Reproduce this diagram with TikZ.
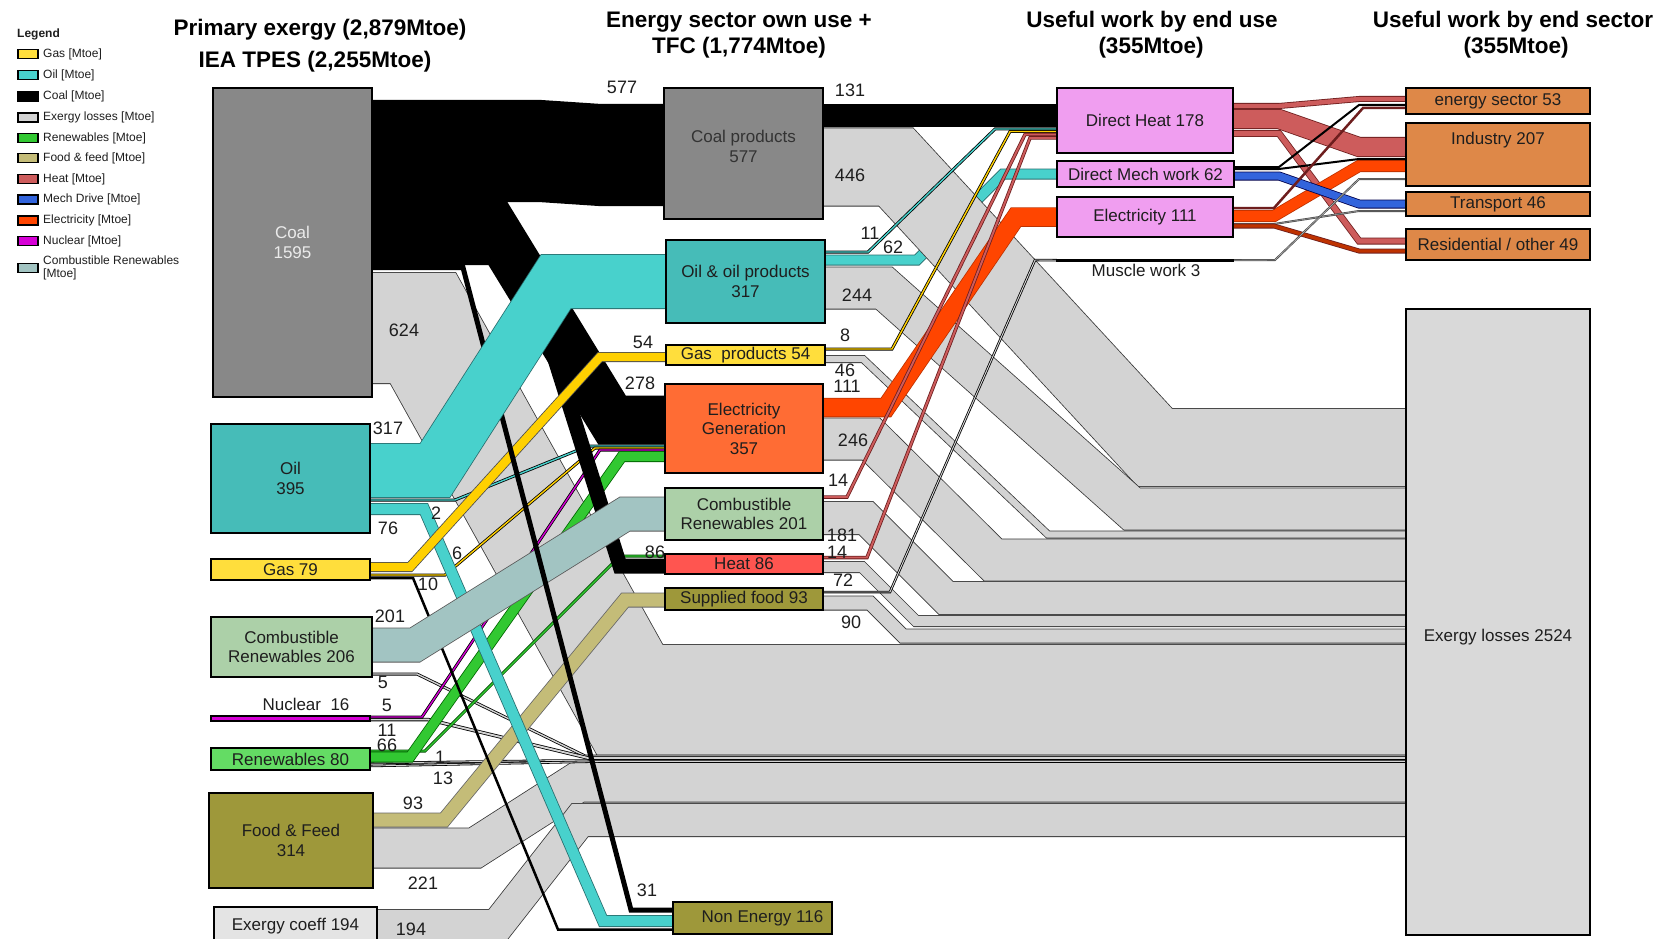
\documentclass[tikz,border=0pt]{standalone}
\usepackage{fontspec}
\setmainfont{Liberation Sans}
\usetikzlibrary{calc}
\pgfdeclarelayer{bg}
\pgfdeclarelayer{bands}
\pgfsetlayers{bg,bands,main}

% box fills
\definecolor{coalbox}{RGB}{136,136,136}
\definecolor{oilbox}{RGB}{70,188,184}
\definecolor{gasbox}{RGB}{255,222,60}
\definecolor{crenbox}{RGB}{172,208,168}
\definecolor{renbox}{RGB}{100,220,100}
\definecolor{foodbox}{RGB}{158,152,58}
\definecolor{coeffbox}{RGB}{228,228,228}
\definecolor{elecbox}{RGB}{255,108,52}
\definecolor{heatbox}{RGB}{255,85,80}
\definecolor{usebox}{RGB}{240,158,240}
\definecolor{secbox}{RGB}{222,136,72}
\definecolor{lossbox}{RGB}{217,217,217}
% flow colours
\definecolor{oilflow}{RGB}{72,209,204}
\definecolor{oilline}{RGB}{40,110,110}
\definecolor{gasflow}{RGB}{255,208,0}
\definecolor{crenflow}{RGB}{162,196,194}
\definecolor{nucl}{RGB}{214,0,214}
\definecolor{renflow}{RGB}{50,200,50}
\definecolor{foodflow}{RGB}{196,188,120}
\definecolor{elecflow}{RGB}{255,69,0}
\definecolor{elecline}{RGB}{190,50,0}
\definecolor{heatflow}{RGB}{205,92,92}
\definecolor{heatline}{RGB}{110,30,30}
\definecolor{mechflow}{RGB}{50,100,220}
\definecolor{lossflow}{RGB}{211,211,211}
\definecolor{lossline}{RGB}{55,55,55}
\definecolor{txt}{RGB}{30,30,30}

\newcommand\boxfont{\fontsize{17}{19.5}\selectfont}
\newcommand\numfont{\fontsize{18}{20}\selectfont}
\newcommand\headfont{\fontsize{22.5}{26}\selectfont\bfseries}
\newcommand\legfont{\fontsize{12}{13.5}\selectfont}

\tikzset{
  bandpath/.style={line join=miter, miter limit=25, line cap=butt},
  box/.style={draw=black, line width=2.2pt, inner sep=0pt, outer sep=0pt,
              align=center, text=txt, font=\boxfont},
  lbl/.style={font=\boxfont, text=txt, align=center, inner sep=0pt},
  num/.style={font=\numfont, text=txt, inner sep=0pt},
  head/.style={font=\headfont, text=black, inner sep=0pt, anchor=base},
  legsw/.style={draw=black, line width=1.5pt, minimum width=20pt,
                minimum height=9pt, inner sep=0pt, anchor=west},
  legtx/.style={font=\legfont, text=txt, anchor=west, inner sep=0pt, align=left},
}

% a flow: outline stroke, then the coloured body on top of it
\newcommand\flowband[4]{%
  \draw[bandpath, draw=#2, line width=#3pt] #4;
  \draw[bandpath, draw=#1, line width=#3pt-1.6pt] #4;}

% box from its corners: name, options, x1, y1, x2, y2, text
\newcommand\mkbox[7]{%
  \node[box,#2,minimum width={(#5)-(#3)},minimum height={(#6)-(#4)}]
    (#1) at ({((#3)+(#5))/2},{((#4)+(#6))/2}) {#7};}

\newcommand\legrow[4]{%
  \node[legsw, fill=#2] (#1) at (17,#3) {};
  \node[legtx] (#1t) at (43,#3) {#4};}

\begin{document}
\begin{tikzpicture}[x=1pt,y=-1pt]
\useasboundingbox (0,0) rectangle (1662,939);
\begin{pgfonlayer}{bg}
  \fill[white] (0,0) rectangle (1662,939);
\end{pgfonlayer}

% ---------- headings ----------
\node[head] (h1a) at (320,36) {Primary exergy (2,879Mtoe)};
\node[head] (h1b) at (315,68) {IEA TPES (2,255Mtoe)};
\node[head] (h2a) at (739,28) {Energy sector own use +};
\node[head] (h2b) at (739,54) {TFC (1,774Mtoe)};
\node[head] (h3a) at (1152,28) {Useful work by end use};
\node[head] (h3b) at (1151,54) {(355Mtoe)};
\node[head] (h4a) at (1513,28) {Useful work by end sector};
\node[head] (h4b) at (1516,54) {(355Mtoe)};

% ---------- legend ----------
\node[legtx, font=\legfont\bfseries] (legend) at (17,34) {Legend};
\legrow{lgas}{gasbox}{54}{Gas [Mtoe]}
\legrow{loil}{oilflow}{75}{Oil [Mtoe]}
\legrow{lcoal}{black}{96.5}{Coal [Mtoe]}
\legrow{lloss}{lossflow}{117.5}{Exergy losses [Mtoe]}
\legrow{lren}{renflow}{138}{Renewables [Mtoe]}
\legrow{lfood}{foodflow}{158}{Food \& feed [Mtoe]}
\legrow{lheat}{heatflow}{179}{Heat [Mtoe]}
\legrow{lmech}{mechflow}{199.5}{Mech Drive [Mtoe]}
\legrow{lelec}{elecflow}{220.5}{Electricity [Mtoe]}
\legrow{lnuc}{nucl}{241}{Nuclear [Mtoe]}
\legrow{lcren}{crenflow}{268}{Combustible Renewables\\{[Mtoe]}}

% ---------- primary column ----------
\mkbox{coal}{fill=coalbox,text=white!92!black}{213}{88}{372}{397}{Coal\\1595}
\mkbox{oil}{fill=oilbox}{211}{424}{370}{533}{Oil\\395}
\mkbox{gas}{fill=gasbox}{211}{559}{370}{580}{Gas 79}
\mkbox{combren}{fill=crenbox}{211}{617}{372}{677}{Combustible\\Renewables 206}
\mkbox{nuclear}{fill=nucl,line width=1.3pt}{211}{716}{370}{721}{}
\mkbox{renew}{fill=renbox}{211}{748}{370}{770}{Renewables 80}
\mkbox{food}{fill=foodbox}{209}{793}{373}{888}{Food \& Feed\\314}
\mkbox{coeff}{fill=coeffbox}{214}{907}{377}{945}{Exergy coeff 194}
\node[lbl] (nuctxt) at (306,704) {Nuclear~ 16};

% ---------- energy sector / TFC column ----------
\mkbox{cprod}{fill=coalbox,label={[lbl,text=black!80,yshift=7pt]center:{Coal products\\577}}}{664}{88}{823}{219}{}
\mkbox{oprod}{fill=oilbox}{666}{240}{825}{323}{Oil \& oil products\\317}
\mkbox{gprod}{fill=gasbox}{666}{345}{825}{365}{Gas~ products 54}
\mkbox{elec}{fill=elecbox}{665}{384}{823}{473}{Electricity\\Generation\\357}
\mkbox{cren2}{fill=crenbox}{665}{488}{823}{540}{Combustible\\Renewables 201}
\mkbox{heat}{fill=heatbox}{665}{554}{823}{574}{Heat 86}
\mkbox{sfood}{fill=foodbox}{665}{588}{823}{610}{Supplied food 93}
\mkbox{nonen}{fill=foodbox,label={[lbl,xshift=10pt]center:Non Energy 116}}{673}{902}{832}{934}{}

% ---------- useful work by end use ----------
\mkbox{dheat}{fill=usebox}{1057}{88}{1233}{153}{Direct Heat 178}
\mkbox{dmech}{fill=usebox}{1057}{161}{1234}{187}{Direct Mech work 62}
\mkbox{elecu}{fill=usebox}{1057}{197}{1233}{237}{Electricity 111}
\mkbox{muscle}{fill=black,line width=1.2pt}{1057}{259.5}{1233}{261}{}
\node[lbl] (muscletxt) at (1146,270) {Muscle work 3};

% ---------- useful work by end sector ----------
\mkbox{esec}{fill=secbox}{1406}{88}{1590}{114}{energy sector 53}
\mkbox{ind}{fill=secbox,label={[lbl,yshift=14pt]center:Industry 207}}{1406}{123}{1590}{186}{}
\mkbox{trans}{fill=secbox}{1406}{192}{1590}{216}{Transport 46}
\mkbox{resid}{fill=secbox}{1406}{229}{1590}{260}{Residential / other 49}
\mkbox{exloss}{fill=lossbox,line width=2pt,label={[lbl,yshift=-15pt]center:Exergy losses 2524}}{1406}{309}{1590}{935}{}

% ---------- flows ----------
\begin{pgfonlayer}{bands}
% oil products to direct mechanical work (runs beneath the loss bands)
\flowband{oilflow}{oilline}{11}{(oprod.east |- 0,260) -- (917,260) -- (1003,174) -- (dmech.west |- 0,174)}

% exergy losses
\flowband{lossflow}{lossline}{112}{(coal.east |- 0,328) -- (423,328) -- (630,700) -- (exloss.west |- 0,700)}
\flowband{lossflow}{lossline}{41}{(food.east |- 0,848) -- (475,848) -- (578,782) -- (exloss.west |- 0,782)}
\flowband{lossflow}{lossline}{34}{(coeff.east |- 0,926) -- (497,926) -- (580,820) -- (exloss.west |- 0,820)}
\flowband{lossflow}{lossline}{79}{(cprod.east |- 0,167) -- (896,167) -- (1155,447.5) -- (exloss.west |- 0,447.5)}
\flowband{lossflow}{lossline}{43}{(oprod.east |- 0,288) -- (884,288) -- (1132,509) -- (exloss.west |- 0,509)}
\flowband{lossflow}{lossline}{8}{(gprod.east |- 0,359) -- (863,359) -- (1048,534.5) -- (exloss.west |- 0,534.5)}
\flowband{lossflow}{lossline}{43}{(elec.east |- 0,439) -- (871,439) -- (993,560) -- (exloss.west |- 0,560)}
\flowband{lossflow}{lossline}{34}{(cren2.east |- 0,518) -- (866,518) -- (946,598) -- (exloss.west |- 0,598)}
\flowband{lossflow}{lossline}{12}{(heat.east |- 0,567) -- (862,567) -- (916,621) -- (exloss.west |- 0,621)}
\flowband{lossflow}{lossline}{15}{(sfood.east |- 0,603) -- (870,603) -- (903,636) -- (exloss.west |- 0,636)}
\flowband{lossflow}{black}{3}{(combren.east |- 0,674) -- (417,674) -- (585,756) -- (exloss.west |- 0,756)}
\flowband{lossflow}{black}{3.5}{(nuclear.east |- 0,719.5) -- (428,719.5) -- (588,758) -- (exloss.west |- 0,758)}
\flowband{lossflow}{black}{2.5}{(renew.east |- 0,763) -- (560,760.5) -- (exloss.west |- 0,760.5)}
\flowband{lossflow}{black}{2.5}{(renew.east |- 0,766) -- (600,761.5) -- (exloss.west |- 0,761.5)}

% small inputs to power generation and heat
\flowband{oilflow}{black}{3}{(oil.east |- 0,500) -- (455,500) -- (588,446) -- (elec.west |- 0,446)}
\flowband{gasflow}{black}{3}{(gas.east |- 0,575) -- (445,575) -- (595,448) -- (elec.west |- 0,448)}
\flowband{nucl}{black}{3}{(nuclear.east |- 0,717) -- (422,717) -- (600,450) -- (elec.west |- 0,450)}
\flowband{renflow}{black!70!green}{3}{(renew.east |- 0,751) -- (425,751) -- (620,556) -- (heat.west |- 0,556)}

% primary carriers
\flowband{renflow}{black!60!green}{11}{(renew.east |- 0,757) -- (410,757) -- (622,456.5) -- (elec.west |- 0,456.5)}
\flowband{foodflow}{black!60}{15}{(food.east |- 0,820) -- (444,820) -- (625,600) -- (sfood.west |- 0,600)}
\flowband{oilflow}{oilline}{12}{(oil.east |- 0,509) -- (424,509) -- (603,921) -- (nonen.west |- 0,921)}
\flowband{black}{black}{2.5}{(gas.east |- 0,578) -- (413,578) -- (558,929.5) -- (nonen.west |- 0,929.5)}
\flowband{black}{black}{49}{(coal.east |- 0,225.5) -- (493,225.5) -- (612,420) -- (elec.west |- 0,420)}
\flowband{black}{black}{15}{(coal.east |- 0,257.5) -- (523,257.5) -- (620,566) -- (heat.west |- 0,566)}
\flowband{crenflow}{black!65}{35}{(combren.east |- 0,645) -- (415,645) -- (625,514) -- (cren2.west |- 0,514)}
\flowband{gasflow}{black!70}{10}{(gas.east |- 0,567) -- (410,567) -- (600,357) -- (gprod.west |- 0,357)}
\flowband{black}{black}{5}{(coal.east |- 0,267.5) -- (463,267.5) -- (631,910) -- (nonen.west |- 0,910)}
\flowband{oilflow}{oilline}{55}{(oil.east |- 0,470.5) -- (435,470.5) -- (556,281.5) -- (oprod.west |- 0,281.5)}
\flowband{black}{black}{102}{(coal.east |- 0,151) -- (540,151) -- (600,155) -- (cprod.west |- 0,155)}

% final energy to useful work
\flowband{black}{black}{23}{(cprod.east |- 0,115.5) -- (dheat.west |- 0,115.5)}
\flowband{elecflow}{elecline}{19.5}{(elec.east |- 0,407.5) -- (886,407.5) -- (1016,217) -- (elecu.west |- 0,217)}
\flowband{oilflow}{black}{3}{(oprod.east |- 0,252) -- (868,252) -- (995,129) -- (dheat.west |- 0,129)}
\flowband{gasflow}{black}{3}{(gprod.east |- 0,349) -- (892,349) -- (1010,131.5) -- (dheat.west |- 0,131.5)}
\flowband{heatflow}{heatline}{3.5}{(cren2.east |- 0,497) -- (847,497) -- (1025,134.5) -- (dheat.west |- 0,134.5)}
\flowband{heatflow}{heatline}{3.5}{(heat.east |- 0,557.5) -- (867,557.5) -- (1030,138) -- (dheat.west |- 0,138)}
\flowband{white!85!black}{black}{2.5}{(sfood.east |- 0,592) -- (890,592) -- (1035,260) -- (muscle.west)}

% useful work to end sectors
\flowband{heatflow}{heatline}{6}{(dheat.east |- 0,106) -- (1279,106) -- (1359,99) -- (esec.west |- 0,99)}
\flowband{heatflow}{heatline}{20}{(dheat.east |- 0,119) -- (1279,119) -- (1359,147) -- (ind.west |- 0,147)}
\flowband{heatflow}{heatline}{7}{(dheat.east |- 0,133.5) -- (1279,133.5) -- (1359,241) -- (resid.west |- 0,241)}
\flowband{elecflow}{elecline}{12}{(elecu.east |- 0,216) -- (1274,216) -- (1359,166) -- (ind.west |- 0,166)}
\flowband{mechflow}{black!70!blue}{9}{(dmech.east |- 0,176) -- (1279,176) -- (1359,204) -- (trans.west |- 0,204)}
\flowband{black}{black}{2}{(dmech.east |- 0,167) -- (1279,167) -- (1359,105) -- (esec.west |- 0,105)}
\flowband{black}{black}{2}{(dmech.east |- 0,169) -- (1279,169) -- (1359,159) -- (ind.west |- 0,159)}
\flowband{heatline}{heatline}{2.5}{(elecu.east |- 0,208) -- (1274,208) -- (1363,108) -- (esec.west |- 0,108)}
\flowband{white!70!black}{black!70}{2}{(elecu.east |- 0,224) -- (1274,224) -- (1359,211) -- (trans.west |- 0,211)}
\flowband{elecline}{heatline}{5}{(elecu.east |- 0,226) -- (1274,226) -- (1359,251) -- (resid.west |- 0,251)}
\flowband{white!80!black}{black!70}{2}{(muscle.east) -- (1275,260) -- (1359,179) -- (ind.west |- 0,179)}
\end{pgfonlayer}

% ---------- flow values ----------
\node[num] (v577) at (622,87) {577};
\node[num] (v624) at (404,330) {624};
\node[num] (v317) at (388,428) {317};
\node[num] (v54)  at (643,342) {54};
\node[num] (v278) at (640,383) {278};
\node[num] (v76)  at (388,528) {76};
\node[num] (v2)   at (436,513) {2};
\node[num] (v6)   at (457,553) {6};
\node[num] (v10)  at (428,584) {10};
\node[num] (v201) at (390,616) {201};
\node[num] (v5a)  at (383,682) {5};
\node[num] (v5b)  at (387,705) {5};
\node[num] (v11a) at (387,730) {11};
\node[num] (v66)  at (387,745) {66};
\node[num] (v1)   at (440,757) {1};
\node[num] (v13)  at (443,778) {13};
\node[num] (v93)  at (413,803) {93};
\node[num] (v221) at (423,883) {221};
\node[num] (v194) at (411,929) {194};
\node[num] (v31)  at (647,890) {31};
\node[num] (v86)  at (655,552) {86};
\node[num] (v131) at (850,90) {131};
\node[num] (v446) at (850,175) {446};
\node[num] (v11b) at (870,233) {11};
\node[num] (v62)  at (893,247) {62};
\node[num] (v244) at (857,295) {244};
\node[num] (v8)   at (845,335) {8};
\node[num] (v46)  at (845,370) {46};
\node[num] (v111) at (847,386) {111};
\node[num] (v246) at (853,440) {246};
\node[num] (v14a) at (838,480) {14};
\node[num] (v181) at (842,535) {181};
\node[num] (v14b) at (837,552) {14};
\node[num] (v72)  at (843,580) {72};
\node[num] (v90)  at (851,622) {90};
\end{tikzpicture}
\end{document}
